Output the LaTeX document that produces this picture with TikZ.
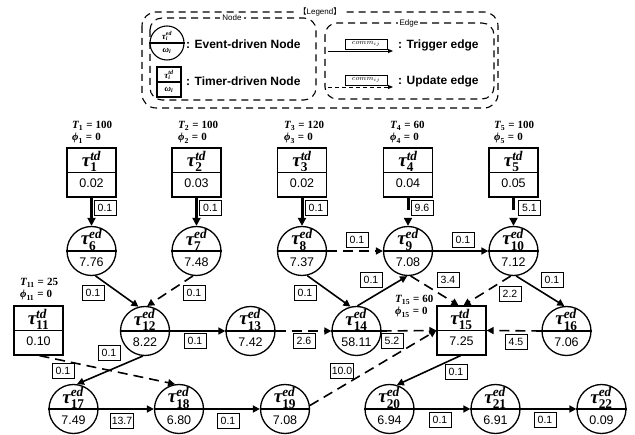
\documentclass[tikz,border=0pt]{standalone}
\usepackage[no-math]{fontspec}
\usepackage{amsmath}
\setmainfont{Liberation Sans}
\newfontfamily\cjkfont{Noto Sans CJK JP}
\newfontfamily\symserif{Liberation Serif}
\usetikzlibrary{arrows.meta,calc}

% bold italic / bold upright symbols set from a text serif
\newcommand\bi[1]{\text{\symserif\bfseries\itshape #1}}
\newcommand\bu[1]{\text{\symserif\bfseries #1}}

\tikzset{
  x=1pt, y=-1pt,
  edc/.style={circle, draw, line width=1.3pt, minimum size=49pt, inner sep=0pt},
  tdr/.style={rectangle, draw, line width=1.3pt, minimum width=49pt, minimum height=49pt, inner sep=0pt},
  divider/.style={line width=1.3pt},
  tautxt/.style={font=\fontsize{19}{20}\selectfont, inner sep=0pt},
  valtxt/.style={font=\fontsize{12.5}{14}\selectfont, inner sep=0pt},
  partxt/.style={font=\fontsize{11}{12}\selectfont, inner sep=0pt, anchor=west},
  lbl/.style={draw, fill=white, line width=0.7pt, minimum width=22pt, minimum height=15pt,
              inner sep=1pt, font=\fontsize{10.5}{12}\selectfont},
  trig/.style={line width=1.6pt, -{Triangle[length=7pt,width=7pt]}},
  upd/.style={trig, dash pattern=on 10pt off 6pt},
  vtrig/.style={line width=3pt, -{Triangle[length=8pt,width=8pt]}},
  vupd/.style={vtrig, dash pattern=on 12pt off 8pt},
  legbox/.style={line width=1.1pt, dash pattern=on 7pt off 5pt, rounded corners=14pt},
  legtitle/.style={fill=white, inner sep=2pt, font=\fontsize{8}{9}\selectfont},
  legtxt/.style={anchor=west, inner sep=0pt, font=\bfseries\fontsize{12}{14}\selectfont},
  legsmall/.style={inner sep=0pt, font=\fontsize{9}{10}\selectfont},
  legcirc/.style={circle, draw, line width=1.1pt, minimum size=34pt, inner sep=0pt},
  legrect/.style={rectangle, draw, line width=1.1pt, minimum width=24pt, minimum height=30pt, inner sep=0pt},
  commbox/.style={draw, fill=white, line width=0.6pt, minimum width=42pt, minimum height=10pt,
                  inner sep=0pt, font=\fontsize{7.5}{8}\selectfont},
  legtrig/.style={line width=0.9pt, -{Triangle[length=5pt,width=4pt]}},
  legupd/.style={legtrig, dash pattern=on 4pt off 3pt},
}

% event-driven node: name, x, y, index, exec time
\newcommand\EDnode[5]{%
  \node[edc] (#1) at (#2,#3) {};
  \draw[divider] (#1.west) -- (#1.east);
  \node[tautxt] (#1tau) at ($(#1.center)+(0,-11)$) {$\bi{τ}^{\bi{ed}}_{\bu{#4}}$};
  \node[valtxt] (#1val) at ($(#1.center)+(0,11)$) {#5};
}
% timer-driven node: name, x, y, index, exec time
\newcommand\TDnode[5]{%
  \node[tdr] (#1) at (#2,#3) {};
  \draw[divider] (#1.west) -- (#1.east);
  \node[tautxt] (#1tau) at ($(#1.center)+(0,-11)$) {$\bi{τ}^{\bi{td}}_{\bu{#4}}$};
  \node[valtxt] (#1val) at ($(#1.center)+(0,11)$) {#5};
}
% period / offset of a timer-driven node: name suffix, x, y, index, period
\newcommand\Params[5]{%
  \node[partxt] (p#1) at (#2,#3) {$\bi{T}_{\bu{#4}} \mathrel{\bu{=}} \bu{#5}$};
  \node[partxt] (f#1) at (#2,#3+12) {$\bi{ϕ}_{\bu{#4}} \mathrel{\bu{=}} \bu{0}$};
}

\begin{document}
\begin{tikzpicture}
\useasboundingbox (0,0) rectangle (635,435);

% ---------- legend ----------
\draw[legbox] (142,12) rectangle (498,108);
\node[legtitle] (legT) at (320,12) {{\cjkfont 【}Legend{\cjkfont 】}};
\draw[legbox, rounded corners=12pt] (150,18) rectangle (316,100);
\node[legtitle] (legN) at (232,18) {Node};
\draw[legbox, rounded corners=12pt] (325,23) rectangle (494,99);
\node[legtitle] (legE) at (409,23) {Edge};

\node[legcirc] (lgE) at (167,43) {};
\draw[line width=1.1pt] (lgE.west) -- (lgE.east);
\node[legsmall] (lgEtau) at (167,36) {$\bi{τ}^{\bi{ed}}_{\bi{i}}$};
\node[legsmall] (lgEval) at (167,51) {$\bi{ω}_{\bi{i}}$};
\node[legtxt] (lgEtxt) at (186,44) {: Event-driven Node};

\node[legrect] (lgT) at (169,82) {};
\draw[line width=1.1pt] (lgT.west) -- (lgT.east);
\node[legsmall] (lgTtau) at (169,75) {$\bi{τ}^{\bi{td}}_{\bi{i}}$};
\node[legsmall] (lgTval) at (169,90) {$\bi{ω}_{\bi{i}}$};
\node[legtxt] (lgTtxt) at (186,81) {: Timer-driven Node};

\coordinate (ta) at (328,51);
\coordinate (tb) at (393,51);
\draw[legtrig] (ta) -- (tb);
\node[commbox] (cm1) at (366,44) {$comm_{ij}$};
\node[legtxt] (trtxt) at (398,45) {: Trigger edge};

\coordinate (ua) at (328,87);
\coordinate (ub) at (393,87);
\draw[legupd] (ua) -- (ub);
\node[commbox] (cm2) at (366,80) {$comm_{ij}$};
\node[legtxt] (uptxt) at (398,81) {: Update edge};

% ---------- timer-driven sources ----------
\TDnode{t1}{91.5}{172.5}{1}{0.02}
\TDnode{t2}{196.5}{172.5}{2}{0.03}
\TDnode{t3}{302}{172.5}{3}{0.02}
\TDnode{t4}{408}{172.5}{4}{0.04}
\TDnode{t5}{513.5}{172.5}{5}{0.05}

\Params{1}{72}{126}{1}{100}
\Params{2}{178}{126}{2}{100}
\Params{3}{284}{126}{3}{120}
\Params{4}{390}{126}{4}{60}
\Params{5}{494}{126}{5}{100}

% ---------- first event row ----------
\EDnode{t6}{91.5}{251}{6}{7.76}
\EDnode{t7}{196.5}{251}{7}{7.48}
\EDnode{t8}{302}{251}{8}{7.37}
\EDnode{t9}{408}{251}{9}{7.08}
\EDnode{t10}{513.5}{251}{10}{7.12}

% ---------- middle row ----------
\TDnode{t11}{38.5}{330.5}{11}{0.10}
\Params{11}{20}{283}{11}{25}
\EDnode{t12}{145}{331}{12}{8.22}
\EDnode{t13}{250.5}{331}{13}{7.42}
\EDnode{t14}{356.5}{331}{14}{58.11}
\TDnode{t15}{461.5}{330.5}{15}{7.25}
\Params{15}{395}{300}{15}{60}
\EDnode{t16}{566.5}{331}{16}{7.06}

% ---------- bottom row ----------
\EDnode{t17}{73.5}{409}{17}{7.49}
\EDnode{t18}{179}{409}{18}{6.80}
\EDnode{t19}{285}{409}{19}{7.08}
\EDnode{t20}{389.5}{409}{20}{6.94}
\EDnode{t21}{495.5}{409}{21}{6.91}
\EDnode{t22}{601.5}{409}{22}{0.09}

% ---------- connectors ----------
\draw[vtrig] (t1.south) -- (t6.north);
\draw[vtrig] (t2.south) -- (t7.north);
\draw[vtrig] (t3.south) -- (t8.north);
\draw[vupd] (t4.south) -- (t9.north);
\draw[vupd] (t5.south) -- (t10.north);

\draw[upd] (t8.east) -- (t9.west);
\draw[trig] (t9.east) -- (t10.west);

\draw[trig] (t6.-81) -- (t12.105);
\draw[upd] (t7.-98) -- (t12.85);
\draw[trig] (t8.-78) -- (t14.104);
\draw[trig] (t14.88) -- (t9.-92);
\draw[upd] (t9.-84) -- ($(t15.north)+(-3,0)$);
\draw[upd] (t10.-96) -- ($(t15.north)+(2,0)$);
\draw[trig] (t10.-84) -- (t16.95);

\draw[trig] (t12.east) -- (t13.west);
\draw[upd] (t13.east) -- (t14.west);
\draw[upd] (t14.east) -- (t15.west);
\draw[upd] (t16.west) -- (t15.east);

\draw[trig] (t12.-95) -- (t17.82);
\draw[upd] ($(t11.south)+(1,0)$) -- (t18.99);
\draw[trig] (t17.east) -- (t18.west);
\draw[trig] (t18.east) -- (t19.west);
\draw[upd] (t19.8) -- (t15.west);
\draw[trig] ($(t15.south)+(-1,0)$) -- (t20.73);
\draw[trig] (t20.east) -- (t21.west);
\draw[trig] (t21.east) -- (t22.west);

% ---------- communication times ----------
\node[lbl] (c1) at (105,208) {0.1};
\node[lbl] (c2) at (210.5,208) {0.1};
\node[lbl] (c3) at (316,208) {0.1};
\node[lbl] (c4) at (422,208) {9.6};
\node[lbl] (c5) at (529.5,208) {5.1};
\node[lbl] (c89) at (357,240) {0.1};
\node[lbl] (c910) at (463,240) {0.1};
\node[lbl] (c612) at (93,293) {0.1};
\node[lbl] (c712) at (194,293) {0.1};
\node[lbl] (c814) at (305,293) {0.1};
\node[lbl] (c149) at (371,280) {0.1};
\node[lbl] (c915) at (448,280) {3.4};
\node[lbl] (c1015) at (510,294) {2.2};
\node[lbl] (c1016) at (552,280) {0.1};
\node[lbl] (c1213) at (195,341) {0.1};
\node[lbl] (c1314) at (304,341) {2.6};
\node[lbl] (c1415) at (392,341) {5.2};
\node[lbl] (c1615) at (516,342) {4.5};
\node[lbl] (c1217) at (109,353) {0.1};
\node[lbl] (c1118) at (63,371) {0.1};
\node[lbl] (c1915) at (342,371) {10.0};
\node[lbl] (c1520) at (456,372) {0.1};
\node[lbl] (c1718) at (122,421) {13.7};
\node[lbl] (c1819) at (228,421) {0.1};
\node[lbl] (c2021) at (440,420) {0.1};
\node[lbl] (c2122) at (545,420) {0.1};
\end{tikzpicture}
\end{document}
